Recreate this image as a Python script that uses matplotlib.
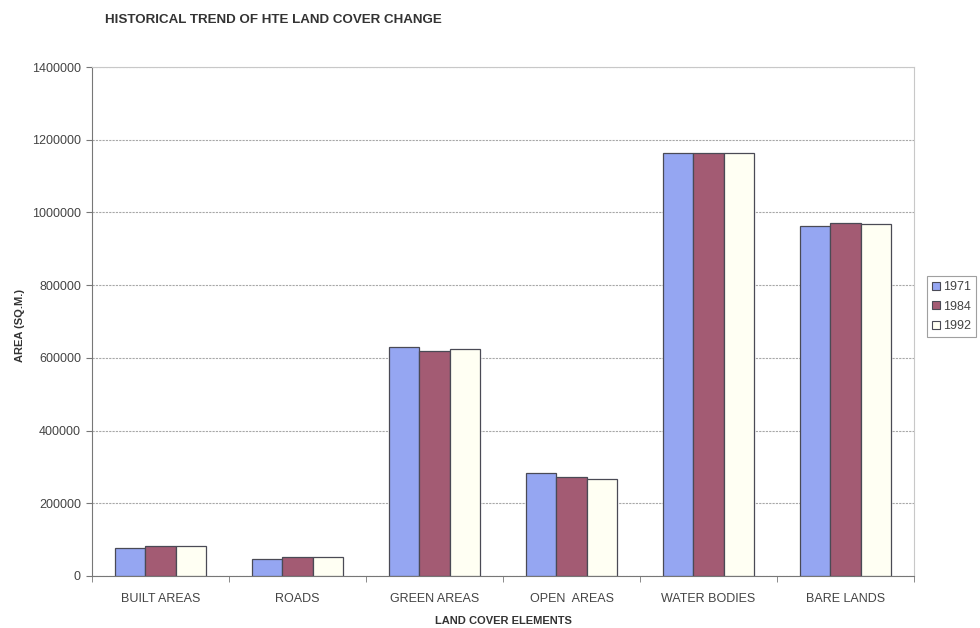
import numpy as np
import matplotlib
matplotlib.use("Agg")
import matplotlib.pyplot as plt
from matplotlib.patches import Patch

plt.rcParams['font.family'] = ['Liberation Sans', 'DejaVu Sans']

categories = ["BUILT AREAS", "ROADS", "GREEN AREAS", "OPEN  AREAS", "WATER BODIES", "BARE LANDS"]
years = ["1971", "1984", "1992"]
area_1971 = [77000, 48000, 629000, 282000, 1163000, 964000]
area_1984 = [83000, 51500, 619000, 271000, 1163000, 970000]
area_1992 = [83000, 51500, 625000, 267000, 1163000, 967000]
series = [area_1971, area_1984, area_1992]
colors = ["#95a6f2", "#a35b73", "#fffff3"]

fig = plt.figure(figsize=(9.8, 6.28), dpi=100)
ax = fig.add_axes([92 / 980, 1 - 576 / 628, (914 - 92) / 980, (576 - 67) / 628])

n = len(categories)
x = np.arange(n)
bw = 1 / (3 + 1.5)
for i, (vals, c) in enumerate(zip(series, colors)):
    ax.bar(x - 1.5 * bw + (i + 0.5) * bw, vals, width=bw, color=c,
           edgecolor="#4a4a55", linewidth=0.9, label=years[i], zorder=3)

ax.set_xlim(-0.5, n - 0.5)
ax.set_ylim(0, 1400000)
ax.set_yticks(np.arange(0, 1400001, 200000))
ax.set_yticklabels([str(v) for v in range(0, 1400001, 200000)], fontsize=9, color="#444444")
ax.yaxis.grid(True, color="#a8a8a8", linewidth=0.8, linestyle=(0, (2, 1)), zorder=0)

ax.set_xticks(x)
ax.set_xticklabels(categories, fontsize=9, color="#444444")
ax.tick_params(axis="x", length=0, pad=12)
ax.set_xticks(np.arange(-0.5, n, 1), minor=True)
ax.tick_params(axis="x", which="minor", length=4, color="#777777", direction="out")
ax.tick_params(axis="y", length=4, color="#777777", direction="out", pad=4)

for side in ["top", "right"]:
    ax.spines[side].set_color("#c8c8c8")
    ax.spines[side].set_linewidth(0.8)
ax.spines["left"].set_color("#777777")
ax.spines["bottom"].set_color("#777777")

handles = [Patch(facecolor=c, edgecolor="#4a4a55", linewidth=0.8) for c in colors]
leg = fig.legend(handles, years, loc="upper left", bbox_to_anchor=(927 / 980, 1 - 276 / 628),
                 fontsize=9, frameon=True, fancybox=False, handlelength=0.6, handleheight=0.6,
                 handletextpad=0.3, borderpad=0.4, labelspacing=0.6, borderaxespad=0)
leg.get_frame().set_edgecolor("#888888")
leg.get_frame().set_linewidth(0.8)
for t in leg.get_texts():
    t.set_color("#444444")

title_font = ['Liberation Sans Narrow', 'Liberation Sans', 'DejaVu Sans']
fig.text(105 / 980, 1 - 20 / 628, "HISTORICAL TREND OF HTE LAND COVER CHANGE",
         fontsize=9.6, fontweight="bold", family=title_font, color="#333333",
         ha="left", va="center")
fig.text(503 / 980, 1 - 621 / 628, "LAND COVER ELEMENTS",
         fontsize=8, fontweight="bold", family=title_font, color="#333333",
         ha="center", va="center")
fig.text(20 / 980, 1 - 325 / 628, "AREA (SQ.M.)", rotation=90,
         fontsize=8, fontweight="bold", family=title_font, color="#333333",
         ha="center", va="center")

fig.savefig("out.png", dpi=100, facecolor="white")
